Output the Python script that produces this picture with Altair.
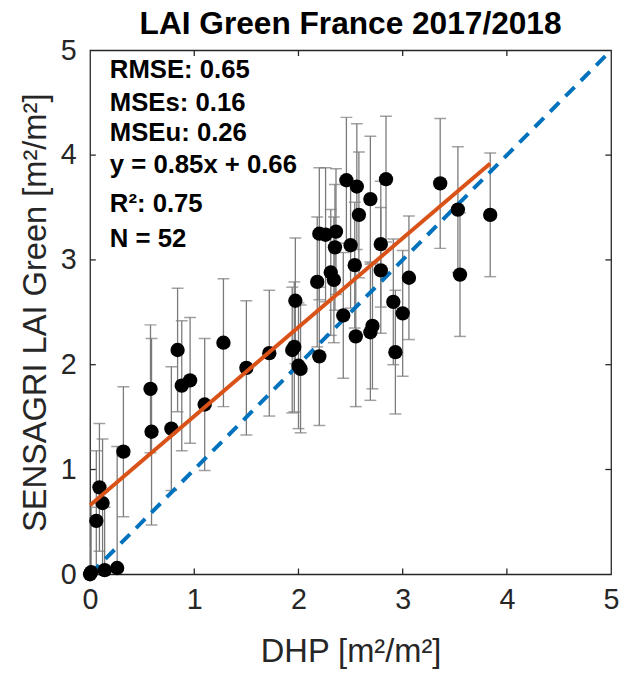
import altair as alt
import pandas as pd

# ---- data ----
dhp = [0.00, 0.01, 0.14, 0.26, 0.06, 0.09, 0.12, 0.32, 0.59, 0.78, 1.10, 0.58, 0.84,
       0.88, 0.96, 1.28, 1.50, 1.72, 1.94, 1.96, 1.97, 2.00, 2.02, 2.20, 2.18, 2.31,
       2.34, 2.20, 2.26, 2.36, 2.35, 2.46, 2.56, 2.69, 2.58, 2.84, 2.50, 2.79, 2.54,
       2.79, 3.06, 2.43, 2.91, 3.00, 2.55, 2.71, 2.69, 2.93, 3.36, 3.53, 3.55, 3.84]
sensagri = [0.00, 0.02, 0.04, 0.06, 0.51, 0.83, 0.68, 1.17, 1.36, 1.39, 1.62, 1.77, 2.14,
            1.80, 1.85, 2.21, 1.97, 2.11, 2.14, 2.17, 2.61, 1.99, 1.96, 2.08, 2.79, 2.88,
            2.81, 3.25, 3.24, 3.27, 3.12, 3.76, 3.70, 3.58, 3.43, 3.77, 3.14, 3.15, 2.95,
            2.90, 2.83, 2.47, 2.60, 2.49, 2.27, 2.37, 2.31, 2.12, 3.73, 3.48, 2.86, 3.43]
err = [0.55, 0.62, 0.60, 1.16, 0.67, 0.61, 0.61, 0.62, 0.89, 0.59, 0.63, 0.61, 0.59,
       0.62, 0.60, 0.61, 0.64, 0.60, 0.60, 0.62, 0.60, 0.60, 0.61, 0.66, 0.62, 0.60,
       0.60, 0.63, 0.64, 0.60, 0.60, 0.60, 0.60, 0.60, 0.60, 0.60, 0.60, 0.60, 0.60,
       0.60, 0.59, 0.60, 0.60, 0.60, 0.67, 0.60, 0.65, 0.59, 0.62, 0.60, 0.59, 0.59]

fit_x = [0.0, 3.84]
fit_y = [0.66, 3.92]
one_x = [0.0, 5.0]
one_y = [0.0, 5.0]

tick_vals = [1, 2, 3, 4]
axis_vals = [0, 1, 2, 3, 4, 5]

stats = ["RMSE: 0.65", "MSEs: 0.16", "MSEu: 0.26", "y = 0.85x + 0.66", "R²: 0.75", "N = 52"]
stats_y = [20, 53, 84, 116, 156, 191]

df = pd.DataFrame({"x": dhp, "y": sensagri})
df["lo"] = df["y"] - pd.Series(err)
df["hi"] = df["y"] + pd.Series(err)

FONT = "Liberation Sans"
AX = "#262626"

xs = alt.Scale(domain=[0, 5], nice=False)
ys = alt.Scale(domain=[0, 5], nice=False)

xax = alt.Axis(values=axis_vals, format="d", title="DHP [m²/m²]", labelFlush=False,
               labelPadding=12, titlePadding=21)
yax = alt.Axis(values=axis_vals, format="d", title="SENSAGRI LAI Green [m²/m²]",
               labelPadding=14, titlePadding=8)

base = alt.Chart(df)

bars = base.mark_rule(color="#7a7a7a", strokeWidth=1.3, clip=True).encode(
    x=alt.X("x:Q", scale=xs, axis=xax),
    y=alt.Y("lo:Q", scale=ys, axis=yax),
    y2="hi:Q",
)
cap_lo = base.mark_tick(color="#7a7a7a", orient="horizontal", size=12, thickness=1.5,
                        clip=True).encode(x=alt.X("x:Q", scale=xs), y=alt.Y("lo:Q", scale=ys))
cap_hi = base.mark_tick(color="#7a7a7a", orient="horizontal", size=12, thickness=1.5,
                        clip=True).encode(x=alt.X("x:Q", scale=xs), y=alt.Y("hi:Q", scale=ys))

one = alt.Chart(pd.DataFrame({"x": one_x, "y": one_y})).mark_line(
    color="#0072BD", strokeWidth=4, strokeDash=[13, 9], clip=True
).encode(x=alt.X("x:Q", scale=xs), y=alt.Y("y:Q", scale=ys))

pts = base.mark_circle(color="black", opacity=1, size=210, clip=False).encode(
    x=alt.X("x:Q", scale=xs), y=alt.Y("y:Q", scale=ys))

fit = alt.Chart(pd.DataFrame({"x": fit_x, "y": fit_y})).mark_line(
    color="#D95319", strokeWidth=4
).encode(x=alt.X("x:Q", scale=xs), y=alt.Y("y:Q", scale=ys))

tl = 0.055
tdf = pd.DataFrame({"v": tick_vals})
ticks = alt.layer(
    alt.Chart(tdf).mark_rule(color=AX, strokeWidth=1.3).encode(
        x=alt.X("v:Q", scale=xs), y=alt.datum(0.0), y2=alt.datum(tl)),
    alt.Chart(tdf).mark_rule(color=AX, strokeWidth=1.3).encode(
        x=alt.X("v:Q", scale=xs), y=alt.datum(5.0), y2=alt.datum(5.0 - tl)),
    alt.Chart(tdf).mark_rule(color=AX, strokeWidth=1.3).encode(
        y=alt.Y("v:Q", scale=ys), x=alt.datum(0.0), x2=alt.datum(tl)),
    alt.Chart(tdf).mark_rule(color=AX, strokeWidth=1.3).encode(
        y=alt.Y("v:Q", scale=ys), x=alt.datum(5.0), x2=alt.datum(5.0 - tl)),
)

texts = alt.layer(*[
    alt.Chart(pd.DataFrame({"t": [s]})).mark_text(
        align="left", baseline="middle", font=FONT, fontSize=26, fontWeight="bold",
        color="black"
    ).encode(text="t:N", x=alt.value(20), y=alt.value(yy))
    for s, yy in zip(stats, stats_y)
])

chart = alt.layer(bars, cap_lo, cap_hi, one, pts, fit, ticks, texts).properties(
    width=527, height=530,
    title=alt.TitleParams("LAI Green France 2017/2018", font=FONT, fontSize=32,
                          fontWeight="bold", color="black", offset=-5, anchor="middle"),
    autosize=alt.AutoSizeParams(type="none"),
    padding={"left": 83, "top": 39, "right": 8, "bottom": 93},
).configure_view(stroke=AX, strokeWidth=1.3).configure_axis(
    grid=False, ticks=False, domain=False, labelFont=FONT, titleFont=FONT,
    labelFontSize=29, titleFontSize=33, titleFontWeight="normal",
    labelColor=AX, titleColor=AX, labelOverlap=False,
)

chart.save("out.html", embed_options={"renderer": "svg", "actions": False})
